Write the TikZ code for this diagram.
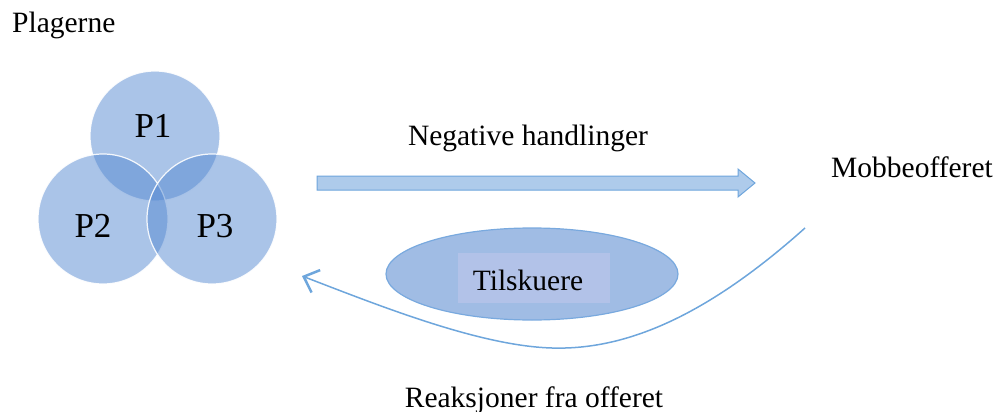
\documentclass[tikz,border=0pt]{standalone}
\usepackage{fontspec}
\setmainfont{Liberation Serif}
\usetikzlibrary{shapes.geometric,arrows.meta}
\definecolor{venn}{RGB}{85,137,209}
\definecolor{barfill}{RGB}{174,203,235}
\definecolor{barline}{RGB}{110,165,220}
\definecolor{ellfill}{RGB}{160,188,228}
\definecolor{ellline}{RGB}{121,169,222}
\definecolor{rectfill}{RGB}{178,194,232}
\definecolor{curve}{RGB}{110,166,220}
\tikzset{
  lbl/.style={inner sep=0pt, anchor=base, font=\fontsize{29.5}{31}\selectfont},
  plbl/.style={inner sep=0pt, anchor=base, font=\fontsize{35}{38}\selectfont},
  venncircle/.style={circle, minimum size=130pt, inner sep=0pt, fill=venn, fill opacity=0.5, draw=white, draw opacity=0.9, line width=1.2pt},
}
\begin{document}
\begin{tikzpicture}[x=1pt,y=-1pt]
\useasboundingbox (0,0) rectangle (996,412);
% Venn circles
\node[venncircle] (c1) at (155,136) {};
\node[venncircle] (c2) at (103,219) {};
\node[venncircle] (c3) at (212,219) {};
\node[plbl] (p1) at (153,137) {P1};
\node[plbl] (p2) at (93,237) {P2};
\node[plbl] (p3) at (215,237) {P3};
% labels
\node[lbl, anchor=base west] (plagerne) at (12,33) {Plagerne};
\node[lbl] (neg) at (528,145) {Negative handlinger};
\node[lbl] (mobb) at (912,177) {Mobbeofferet};
\node[lbl] (reak) at (534,407) {Reaksjoner fra offeret};
% block arrow
\draw[fill=barfill, draw=barline, line width=1pt, line join=miter]
  (317,176) -- (738,176) -- (738,169) -- (755,183) -- (738,197) -- (738,190) -- (317,190) -- cycle;
% bystanders
\node[ellipse, minimum width=292pt, minimum height=92pt, inner sep=0pt, fill=ellfill, draw=ellline, line width=1.2pt] (ell) at (532,274) {};
\node[rectangle, minimum width=152pt, minimum height=50pt, inner sep=0pt, fill=rectfill] (rect) at (534,278) {};
\node[lbl] (tils) at (528,290) {Tilskuere};
% reaction curve
\coordinate (cs) at (805,228);
\coordinate (cb) at (552,348);
\coordinate (ce) at (302,276);
\draw[curve, line width=1.5pt, -{Straight Barb[length=13pt, width=24pt, line width=2.5pt]}]
  (cs) .. controls (700,322) and (620,350) .. (cb)
  .. controls (480,346) and (380,306) .. (ce);
\end{tikzpicture}
\end{document}
